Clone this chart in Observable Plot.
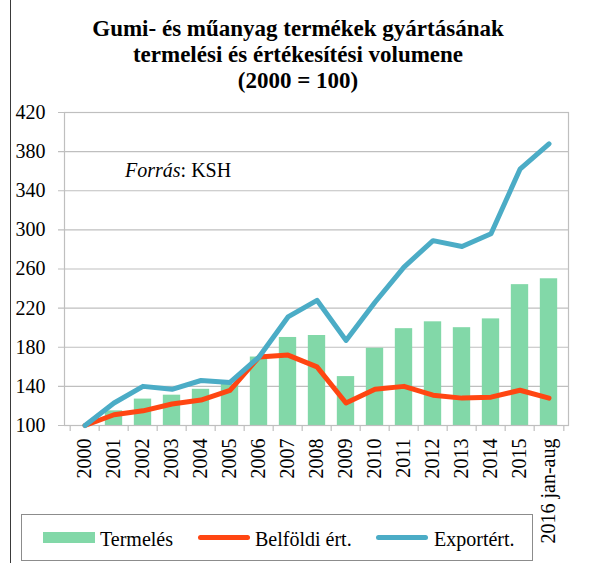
<!DOCTYPE html>
<html>
<head>
<meta charset="utf-8">
<script src="https://cdn.jsdelivr.net/npm/d3@7"></script>
<script src="https://cdn.jsdelivr.net/npm/@observablehq/plot@0.6"></script>
<style>
  html, body { margin: 0; padding: 0; background: #fff; }
  body { font-family: "Liberation Serif", "Times New Roman", Times, Tinos, "DejaVu Serif", serif; color: #000; }
  #wrap { position: relative; width: 590px; height: 563px; overflow: hidden; }
  #border { position: absolute; left: 10px; top: 0; width: 0; height: 563px; border-left: 1.5px solid #3a3a3a; }
  #title { position: absolute; left: 0; top: 16px; width: 596px; text-align: center; font-weight: bold; font-size: 23px; line-height: 26px; }
  #chart { position: absolute; left: 0; top: 100px; }
  #source { position: absolute; left: 125px; top: 160px; font-size: 20px; line-height: 20px; white-space: nowrap; }
  #legend { position: absolute; left: 21px; top: 514px; width: 510px; height: 45px; border: 1px solid #8c8c8c; background: #fff; }
  .sw { position: absolute; }
  .lt { position: absolute; font-size: 20px; line-height: 20px; top: 14px; white-space: nowrap; }
</style>
</head>
<body>
<div id="wrap">
  <div id="border"></div>
  <div id="title">Gumi- és műanyag termékek gyártásának<br>termelési és értékesítési volumene<br>(2000 = 100)</div>
  <div id="chart"></div>
  <div id="source"><i>Forrás</i>: KSH</div>
  <div id="legend"></div>
</div>
<script>
const years = ["2000","2001","2002","2003","2004","2005","2006","2007","2008","2009","2010","2011","2012","2013","2014","2015","2016 jan-aug"];
const termeles = [100,115,127,131,137,142,170,190,192,150,179,199,206,200,209,244,250];
const belfoldi = [100,111,115,122,126,136,170,172,160,123,137,140,131,128,129,136,128];
const export_ = [100,123,140,137,146,144,170,211,228,187,226,262,289,283,296,362,388];
const yTicks = [100,140,180,220,260,300,340,380,420];
const base = 100;

const seriesNames = ["Termelés", "Belföldi ért.", "Exportért."];
const colors = ["#82d8a8", "#ff4612", "#4bacc6"];

const data = years.map((y, i) => ({year: y, termeles: termeles[i], belfoldi: belfoldi[i], export: export_[i]}));

const W = 590, H = 463, mL = 64, mR = 22, mT = 12, mB = 138;
const step = (W - mL - mR) / years.length;
const plotH = H - mT - mB;
const grid = "#bfbfbf";
const FONT = '"Liberation Serif", "Times New Roman", Times, Tinos, "DejaVu Serif", serif';

const chart = Plot.plot({
  width: W, height: H,
  marginLeft: mL, marginRight: mR, marginTop: mT, marginBottom: mB,
  style: {fontFamily: FONT, fontSize: "20px", color: "#000", background: "transparent", overflow: "visible"},
  x: {domain: years, padding: 0, label: null},
  y: {domain: [100, 420], label: null},
  marks: [
    Plot.ruleY(yTicks, {stroke: grid, strokeWidth: 1.2, insetLeft: -6}),
    Plot.barY(data, {x: "year", y1: base, y2: "termeles", fill: colors[0], insetLeft: (step - 18) / 2, insetRight: (step - 18) / 2}),
    Plot.ruleX(years, {x: d => d, dx: -step / 2, stroke: grid, strokeWidth: 1.2, insetTop: plotH, insetBottom: -6}),
    Plot.ruleX([years[years.length - 1]], {x: d => d, dx: step / 2, stroke: grid, strokeWidth: 1.2, insetTop: plotH, insetBottom: -6}),
    Plot.frame({stroke: grid, strokeWidth: 1.2}),
    Plot.line(data, {x: "year", y: "belfoldi", stroke: colors[1], strokeWidth: 5, strokeLinejoin: "round", strokeLinecap: "round"}),
    Plot.line(data, {x: "year", y: "export", stroke: colors[2], strokeWidth: 5, strokeLinejoin: "round", strokeLinecap: "round"}),
    Plot.axisY({ticks: yTicks, tickSize: 0, tickPadding: 19, label: null, fontSize: 20}),
    Plot.axisX({tickRotate: -90, tickSize: 0, tickPadding: 13, label: null, fontSize: 20})
  ]
});
document.getElementById("chart").appendChild(chart);

const legend = document.getElementById("legend");
const items = [
  {name: seriesNames[0], color: colors[0], type: "rect", sx: 21, tx: 78},
  {name: seriesNames[1], color: colors[1], type: "line", sx: 176, tx: 233},
  {name: seriesNames[2], color: colors[2], type: "line", sx: 354, tx: 412}
];
items.forEach(it => {
  const sw = document.createElement("div");
  sw.className = "sw";
  sw.style.left = it.sx + "px";
  sw.style.width = "52px";
  if (it.type === "rect") {
    sw.style.top = "17px"; sw.style.height = "11px"; sw.style.background = it.color;
  } else {
    sw.style.top = "20px"; sw.style.height = "5px"; sw.style.background = it.color; sw.style.borderRadius = "3px";
  }
  legend.appendChild(sw);
  const t = document.createElement("div");
  t.className = "lt";
  t.style.left = it.tx + "px";
  t.textContent = it.name;
  legend.appendChild(t);
});
</script>
</body>
</html>
